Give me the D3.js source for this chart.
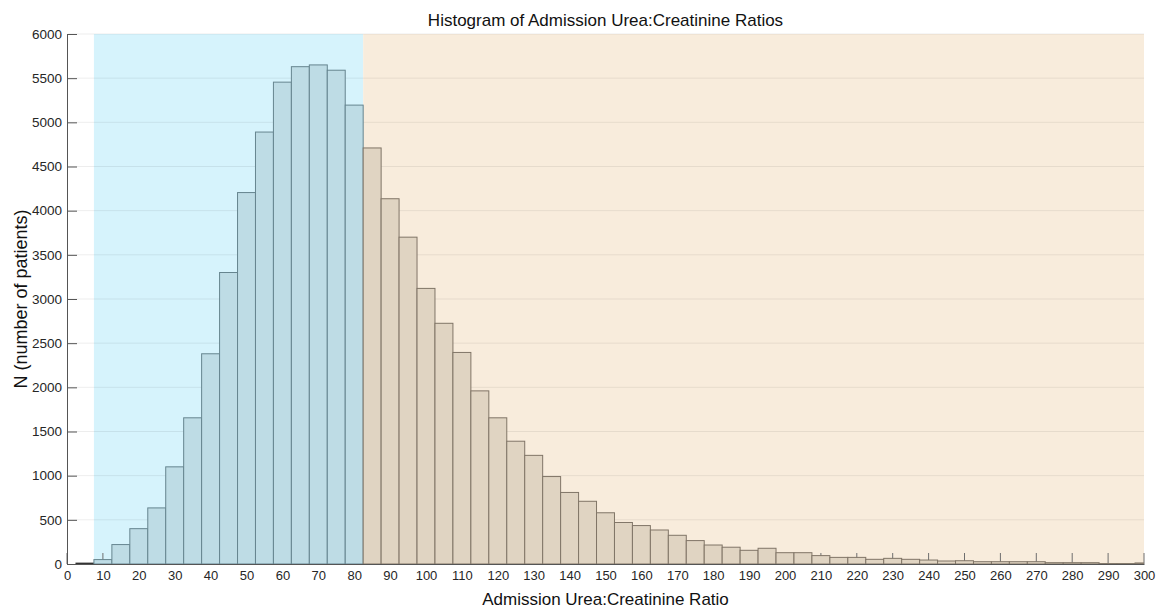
<!DOCTYPE html>
<html>
<head>
<meta charset="utf-8">
<script src="https://cdn.jsdelivr.net/npm/d3@7"></script>
<style>
  html, body { margin: 0; padding: 0; background: #fff; }
  svg { display: block; font-family: "Liberation Sans", Arial, sans-serif; }
</style>
</head>
<body>
<svg id="chart" width="1163" height="609"></svg>
<script>
// Bin centres (width 5) of the admission urea:creatinine ratio
const binCenters = [5, 10, 15, 20, 25, 30, 35, 40, 45, 50, 55, 60, 65, 70, 75, 80,
  85, 90, 95, 100, 105, 110, 115, 120, 125, 130, 135, 140, 145, 150, 155, 160, 165,
  170, 175, 180, 185, 190, 195, 200, 205, 210, 215, 220, 225, 230, 235, 240, 245,
  250, 255, 260, 265, 270, 275, 280, 285, 290, 295, 300];
// Number of patients in each bin
const counts = [10, 50, 220, 400, 635, 1100, 1655, 2380, 3300, 4205, 4890, 5455, 5630, 5650, 5590, 5195,
  4710, 4135, 3700, 3120, 2725, 2395, 1960, 1655, 1390, 1230, 990, 810, 710, 580, 470, 435, 385,
  325, 265, 215, 190, 155, 178, 128, 128, 95, 75, 75, 53, 64, 53, 45, 34,
  37, 26, 26, 26, 26, 15, 15, 15, 5, 5, 12];
const binWidth = 5;
// Shaded ranges: [start, end, label]
const regions = [[7.5, 82.5, "low"], [82.5, 300, "high"]];
const xTicks = d3.range(0, 301, 10);
const yTicks = d3.range(0, 6001, 500);

const svg = d3.select("#chart");
const margin = { left: 67, right: 19, top: 34, bottom: 45 };
const W = 1163, H = 609;
const plotW = W - margin.left - margin.right;
const plotH = H - margin.top - margin.bottom;

const x = d3.scaleLinear().domain([0, 300]).range([margin.left, margin.left + plotW]);
const y = d3.scaleLinear().domain([0, 6000]).range([margin.top + plotH, margin.top]);

const palette = {
  low: { bg: "#d6f3fc", bar: "#bedce5", edge: "#66858f" },
  high: { bg: "#f8ecdc", bar: "#e0d4c2", edge: "#807567" }
};

svg.append("defs").append("clipPath").attr("id", "plot-clip")
  .append("rect")
  .attr("x", x(0)).attr("y", y(6000))
  .attr("width", x(300) - x(0)).attr("height", y(0) - y(6000));

// shaded background bands
svg.append("g").selectAll("rect").data(regions).join("rect")
  .attr("x", d => x(d[0]))
  .attr("width", d => x(d[1]) - x(d[0]))
  .attr("y", y(6000))
  .attr("height", y(0) - y(6000))
  .attr("fill", d => palette[d[2]].bg);

// horizontal grid lines
svg.append("g").selectAll("line").data(yTicks.filter(v => v > 0)).join("line")
  .attr("x1", x(0) + 1).attr("x2", x(300))
  .attr("y1", d => y(d)).attr("y2", d => y(d))
  .attr("stroke", "#000").attr("stroke-opacity", 0.07).attr("stroke-width", 1);

// inward tick marks along the x axis (sit beneath the bars)
svg.append("g").selectAll("line").data(xTicks).join("line")
  .attr("x1", d => x(d)).attr("x2", d => x(d))
  .attr("y1", y(0)).attr("y2", y(0) - 11)
  .attr("stroke", "#6e6e6e").attr("stroke-width", 1);

// histogram bars
const bins = binCenters.map((c, i) => ({ x0: c - binWidth / 2, x1: c + binWidth / 2, n: counts[i] }));
const regionOf = b => (b.x0 < 82.5 ? "low" : "high");
svg.append("g").attr("clip-path", "url(#plot-clip)")
  .selectAll("rect").data(bins).join("rect")
  .attr("x", d => x(d.x0))
  .attr("width", d => x(d.x1) - x(d.x0))
  .attr("y", d => y(d.n))
  .attr("height", d => y(0) - y(d.n))
  .attr("fill", d => d.x0 < 7.5 ? "#ffffff" : palette[regionOf(d)].bar)
  .attr("stroke", d => d.x0 < 7.5 ? "#333" : palette[regionOf(d)].edge)
  .attr("stroke-width", 1);

// y axis with inward ticks
const yAxis = d3.axisLeft(y).tickValues(yTicks).tickFormat(d3.format("d"))
  .tickSize(-10).tickPadding(5).tickSizeOuter(0);
const gy = svg.append("g").attr("transform", `translate(${x(0)},0)`).call(yAxis)
  .attr("font-family", null).attr("font-size", null);
gy.select(".domain").attr("stroke", "#555");
gy.selectAll(".tick line").attr("stroke", "#555");
gy.selectAll(".tick text").attr("fill", "#262626").style("font-size", "13.5px");

// x axis baseline and labels
const xAxis = d3.axisBottom(x).tickValues(xTicks).tickFormat(d3.format("d"))
  .tickSize(0).tickPadding(7).tickSizeOuter(0);
const gx = svg.append("g").attr("transform", `translate(0,${y(0)})`).call(xAxis)
  .attr("font-family", null).attr("font-size", null);
gx.select(".domain").attr("stroke", "#555");
gx.selectAll(".tick text").attr("fill", "#262626").style("font-size", "13px");

// title and axis labels
svg.append("text")
  .attr("x", (x(0) + x(300)) / 2).attr("y", 26)
  .attr("text-anchor", "middle").style("font-size", "17px").attr("fill", "#111")
  .text("Histogram of Admission Urea:Creatinine Ratios");

svg.append("text")
  .attr("x", (x(0) + x(300)) / 2).attr("y", 605)
  .attr("text-anchor", "middle").style("font-size", "17px").attr("fill", "#111")
  .text("Admission Urea:Creatinine Ratio");

svg.append("text")
  .attr("transform", `translate(27,${(y(0) + y(6000)) / 2}) rotate(-90)`)
  .attr("text-anchor", "middle").style("font-size", "18px").attr("fill", "#111")
  .text("N (number of patients)");
</script>
</body>
</html>
